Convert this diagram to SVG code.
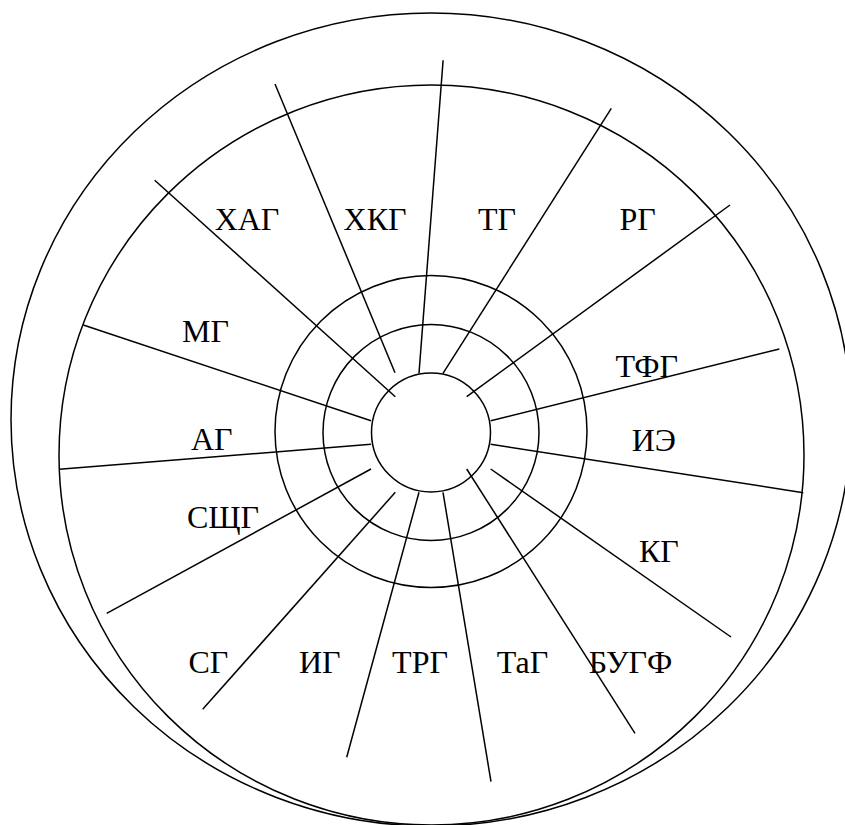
<svg xmlns="http://www.w3.org/2000/svg" width="845" height="825" viewBox="0 0 845 825">
<style>
.s{fill:none;stroke:#000;stroke-width:1.5}
.l{stroke:#000;stroke-width:1.5}
text{font-family:"Liberation Serif","Times New Roman",serif;font-size:32px;fill:#000;text-anchor:middle}
</style>
<rect width="845" height="825" fill="#fff"/>
<g id="rings">
<ellipse class="s" cx="431" cy="419.5" rx="420" ry="406.5"/>
<ellipse class="s" cx="431.5" cy="455" rx="372.5" ry="370"/>
<circle class="s" cx="431" cy="431.5" r="156"/>
<circle class="s" cx="431" cy="432.5" r="108"/>
<circle class="s" cx="431" cy="432.5" r="59.5"/>
</g>
<g id="connectors">
<line class="l" x1="395.3" y1="396.7" x2="154.7" y2="180.3"/>
<line class="l" x1="395" y1="372.7" x2="275" y2="84"/>
<line class="l" x1="419" y1="373.3" x2="443.1" y2="60.3"/>
<line class="l" x1="443" y1="373.3" x2="611.3" y2="108.3"/>
<line class="l" x1="466.7" y1="396.7" x2="730" y2="205"/>
<line class="l" x1="490.7" y1="420.7" x2="779.3" y2="349"/>
<line class="l" x1="490.7" y1="444.3" x2="803.3" y2="492.7"/>
<line class="l" x1="490.7" y1="469" x2="731" y2="637"/>
<line class="l" x1="466.7" y1="469" x2="635" y2="733.3"/>
<line class="l" x1="443" y1="492.3" x2="491" y2="781.7"/>
<line class="l" x1="419" y1="492.3" x2="346.7" y2="757.3"/>
<line class="l" x1="395.3" y1="492.3" x2="202.7" y2="709.3"/>
<line class="l" x1="371" y1="469" x2="106.7" y2="613.3"/>
<line class="l" x1="371" y1="444.3" x2="59.3" y2="469.3"/>
<line class="l" x1="371" y1="420.7" x2="83.3" y2="325"/>
</g>
<g id="n-hag"><text x="247" y="230">ХАГ</text></g>
<g id="n-hkg"><text x="375" y="230">ХКГ</text></g>
<g id="n-tg"><text x="497" y="230">ТГ</text></g>
<g id="n-rg"><text x="637.7" y="230">РГ</text></g>
<g id="n-mg"><text x="205.5" y="341.7">МГ</text></g>
<g id="n-tfg"><text x="646.7" y="377.3">ТФГ</text></g>
<g id="n-ag"><text x="211.7" y="450">АГ</text></g>
<g id="n-ie"><text x="653.8" y="450.7">ИЭ</text></g>
<g id="n-sschg"><text x="223" y="528">СЩГ</text></g>
<g id="n-kg"><text x="658.8" y="561.7">КГ</text></g>
<g id="n-sg"><text x="208.3" y="673.3">СГ</text></g>
<g id="n-ig"><text x="319.7" y="673">ИГ</text></g>
<g id="n-trg"><text x="420" y="673">ТРГ</text></g>
<g id="n-tag"><text x="522.5" y="673">ТаГ</text></g>
<g id="n-bugf"><text x="630.5" y="673">БУГФ</text></g>
</svg>
